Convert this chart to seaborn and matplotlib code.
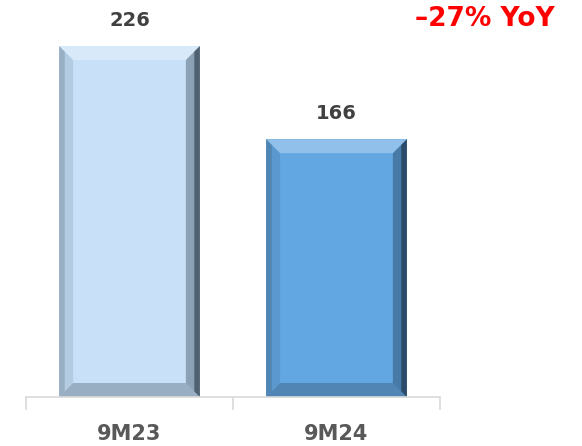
import matplotlib
matplotlib.use("Agg")
import matplotlib.pyplot as plt
import seaborn as sns
import pandas as pd
from matplotlib.patches import Polygon

categories = ["9M23", "9M24"]
values = [226, 166]
bar_colors = ["#C8E1F8", "#62A6E2"]
annotation = "\u201327% YoY"

sns.set_theme(style="white")
plt.rcParams['font.family'] = ['DejaVu Sans']

fig = plt.figure(figsize=(5.82, 4.46), dpi=100)
ax = fig.add_axes([26/582, 1-397/446, 414/582, 387/446])

df = pd.DataFrame({"cat": categories, "val": values})
sns.barplot(data=df, x="cat", y="val", hue="cat", palette=bar_colors,
            width=0.68, legend=False, ax=ax, saturation=1, linewidth=0)

ax.set_ylim(0, 249.2)
ax.set_xlim(-0.5, 1.5)

# bevel effect derived from bar geometry
fig.canvas.draw()
inv = ax.transData.inverted()
bars = list(ax.patches)
for p in bars:
    x0, y0 = p.get_x(), p.get_y()
    w, h = p.get_width(), p.get_height()
    px0 = ax.transData.transform((x0, y0))
    dx = inv.transform((px0[0] + 14, px0[1]))[0] - x0
    dy = inv.transform((px0[0], px0[1] + 14))[1] - y0
    x1, y1 = x0 + w, y0 + h
    top = Polygon([(x0, y1), (x1, y1), (x1 - dx, y1 - dy), (x0 + dx, y1 - dy)],
                  closed=True, facecolor="white", alpha=0.3, lw=0)
    right = Polygon([(x1, y1), (x1, y0), (x1 - dx, y0 + dy), (x1 - dx, y1 - dy)],
                    closed=True, facecolor="#1a2a3a", alpha=0.35, lw=0)
    right2 = Polygon([(x1, y1), (x1, y0), (x1 - dx/2.5, y0 + dy/2.5), (x1 - dx/2.5, y1 - dy/2.5)],
                     closed=True, facecolor="#0a1520", alpha=0.45, lw=0)
    left = Polygon([(x0, y1), (x0, y0), (x0 + dx, y0 + dy), (x0 + dx, y1 - dy)],
                   closed=True, facecolor="#2a3a4a", alpha=0.12, lw=0)
    left2 = Polygon([(x0, y1), (x0, y0), (x0 + dx/2.5, y0 + dy/2.5), (x0 + dx/2.5, y1 - dy/2.5)],
                    closed=True, facecolor="#2a3a4a", alpha=0.2, lw=0)
    bottom = Polygon([(x0, y0), (x1, y0), (x1 - dx, y0 + dy), (x0 + dx, y0 + dy)],
                     closed=True, facecolor="#2a3a4a", alpha=0.3, lw=0)
    for poly in (top, right, right2, left, left2, bottom):
        ax.add_patch(poly)
    ax.text(x0 + w/2, y1 + 10.5, f"{int(round(h))}", ha="center", va="bottom",
            fontsize=14, fontweight="bold", color="#404040")

for s in ["top", "right", "left"]:
    ax.spines[s].set_visible(False)
ax.spines["bottom"].set_color("#D9D9D9")
ax.spines["bottom"].set_linewidth(1.2)
ax.set_yticks([])
ax.set_xlabel("")
ax.set_ylabel("")
ax.set_xticks([-0.5, 0.5, 1.5], minor=False)
ax.set_xticklabels([])
ax.tick_params(axis="x", which="major", length=9, width=1.2, color="#D9D9D9", bottom=True)
ax.set_xticks([0, 1], minor=True)
ax.set_xticklabels(categories, minor=True, fontsize=15, fontweight="bold", color="#595959")
ax.tick_params(axis="x", which="minor", length=0, pad=27)
for t in ax.get_xticklabels(minor=True):
    t.set_verticalalignment("center")

fig.text(555/582, 1-19/446, annotation, ha="right", va="center",
         fontsize=19, fontweight="bold", color="#FF0000")

fig.savefig("out.png", dpi=100)
